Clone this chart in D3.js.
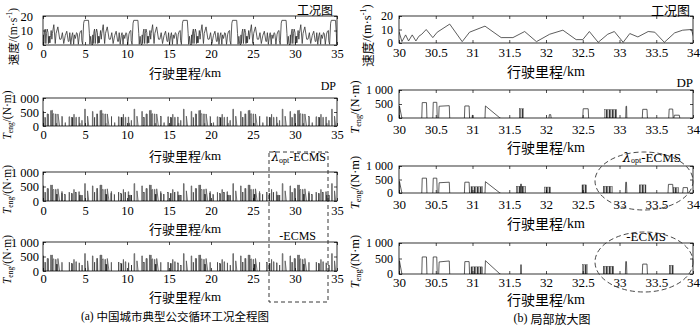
<!DOCTYPE html>
<html><head><meta charset="utf-8">
<script src="https://cdn.jsdelivr.net/npm/d3@7"></script>
<style>body{margin:0;background:#fff} text{fill:#000}</style>
</head><body>
<svg id="fig" width="700" height="326"></svg>
<script>
// one bus cycle (CCBC) is repeated along the full route
const cycleLen = 5.88;   // km
const nCycles = 6;

// speed in one cycle: [km inside cycle, m/s]
const speedCycle = [[0,0],[0.05,7],[0.10,1],[0.18,9],[0.26,11],[0.34,1],[0.42,8],[0.50,11],[0.60,8.5],
  [0.64,1],[0.69,6],[0.73,1.5],[0.78,6],[0.83,1.5],[0.87,5],[0.91,6.5],[0.97,10],[1.06,4],[1.12,8],
  [1.29,14],[1.46,1],[1.56,8],[1.77,12.5],[1.99,4],[2.15,4],[2.31,8.5],[2.47,1],[2.65,6.5],[2.83,9.5],
  [3.01,2.5],[3.10,2.5],[3.19,8.5],[3.31,0.5],[3.44,6.5],[3.53,8.5],[3.65,0.5],[3.74,7],[3.85,4.5],
  [3.99,8.5],[4.08,8],[4.21,0.5],[4.35,7.5],[4.46,9.5],[4.58,10],[4.615,3],[4.72,0.5],[4.84,15],
  [4.92,17],[5.42,17],[5.52,8],[5.58,0.5],[5.68,6],[5.76,1],[5.88,0]];

// engine torque events in one cycle: [start km, end km, torque at start, torque at end, dense]
const dpCycle = [[0.00,0.07,520,520,0],[0.22,0.30,300,300,1],[0.50,0.60,430,430,0],[0.60,0.645,430,0,0],
  [0.91,0.98,550,550,0],[1.06,1.12,560,560,0],[1.14,1.29,420,440,0],[1.49,1.56,430,430,0],
  [1.595,1.605,100,100,0],[1.77,1.98,430,0,0],[2.24,2.29,330,330,1],[2.64,2.67,120,120,0],
  [3.10,3.18,330,330,0],[3.40,3.56,300,300,1],[3.685,3.70,420,420,0],[3.91,3.98,310,310,0],
  [4.27,4.33,320,320,0],[4.34,4.42,100,100,0],[4.62,4.66,200,200,0],[4.96,5.04,600,600,0],
  [5.30,5.45,350,0,0]];
const lamCycle = [[0.00,0.07,520,520,0],[0.22,0.30,300,300,1],[0.50,0.60,430,430,0],[0.60,0.645,430,0,0],
  [0.91,0.98,550,550,0],[1.06,1.12,550,550,0],[1.14,1.29,380,400,0],[1.49,1.56,400,400,0],
  [1.58,1.74,230,230,1],[1.77,1.98,420,0,0],[2.20,2.32,250,250,1],[2.25,2.27,330,330,0],
  [2.58,2.66,220,220,1],[3.09,3.15,300,300,1],[3.38,3.50,250,250,1],[3.68,3.70,400,400,0],
  [3.87,3.96,300,300,1],[4.26,4.33,320,320,0],[4.33,4.40,200,200,1],[4.46,4.53,200,200,0],
  [4.62,4.66,200,200,1],[4.96,5.04,600,600,0],[5.30,5.45,350,0,0]];
const ecmsCycle = [[0.00,0.07,520,520,0],[0.22,0.30,300,300,1],[0.50,0.60,430,430,0],[0.60,0.645,430,0,0],
  [0.91,0.98,550,550,0],[1.06,1.12,550,550,0],[1.14,1.29,390,420,0],[1.49,1.56,400,400,0],
  [1.58,1.74,230,230,1],[1.77,1.98,430,0,0],[2.255,2.265,300,300,0],[3.10,3.16,300,300,1],
  [3.38,3.52,250,250,1],[3.68,3.70,400,400,0],[3.91,3.98,320,320,0],[4.28,4.33,280,280,1],
  [4.62,4.66,200,200,1],[4.96,5.04,600,600,0],[5.30,5.45,350,0,0]];

const kmTicksFull = [0,5,10,15,20,25,30,35];
const kmTicksZoom = [30,30.5,31,31.5,32,32.5,33,33.5,34];
const speedTicks = [0,10,20];
const torqueTicks = [0,500,1000];

const serif = "'Liberation Serif','DejaVu Serif',serif";
const cjk = "'Noto Sans CJK SC',sans-serif";

let speedAll = [];
for (let c = 0; c < nCycles; c++) speedCycle.forEach(d => speedAll.push([d[0] + c*cycleLen, d[1]]));
function cycleEvents(list) {
  let out = [];
  for (let c = 0; c < nCycles; c++) list.forEach(e => out.push({x0:e[0]+c*cycleLen, x1:e[1]+c*cycleLen, h0:e[2], h1:e[3], dense:e[4]}));
  return out;
}

let svg = d3.select("#fig");
let defs = svg.append("defs");
defs.append("pattern").attr("id","dense").attr("patternUnits","userSpaceOnUse")
  .attr("width",1.5).attr("height",4)
  .append("rect").attr("width",0.8).attr("height",4).attr("fill","#111");

const cols = {
  L: {x0:43, x1:337, xd:[0,35], xt:kmTicksFull, fs:12.5, yfs:12.5, tfs:13, lx:13, tlx:7},
  R: {x0:399, x1:693, xd:[30,34], xt:kmTicksZoom, fs:13, yfs:12, tfs:14, lx:367, tlx:355}
};
const panels = [
  {col:"L", kind:"speed", y0:16, y1:45, ypad:10, xlab:9, title:27},
  {col:"L", kind:"dp", y0:98, y1:126, ypad:4, xlab:9, title:29},
  {col:"L", kind:"lam", y0:172, y1:201, ypad:4, xlab:10, title:27},
  {col:"L", kind:"ecms", y0:242, y1:271, ypad:4, xlab:8, title:25},
  {col:"R", kind:"speed", y0:16, y1:43, ypad:6, xlab:10, title:28},
  {col:"R", kind:"dp", y0:90, y1:118, ypad:6, xlab:12, title:29},
  {col:"R", kind:"lam", y0:166, y1:193, ypad:6, xlab:12, title:30},
  {col:"R", kind:"ecms", y0:243, y1:274, ypad:6, xlab:9, title:25}
];
const torqueData = {dp: cycleEvents(dpCycle), lam: cycleEvents(lamCycle), ecms: cycleEvents(ecmsCycle)};

panels.forEach((p, i) => {
  const c = cols[p.col];
  const isSpeed = p.kind === "speed";
  let xScale = d3.scaleLinear().domain(c.xd).range([c.x0, c.x1]);
  let yScale = d3.scaleLinear().domain(isSpeed ? [0,20] : [0,1000]).range([p.y1, p.y0]);
  let g = svg.append("g");

  defs.append("clipPath").attr("id","clip"+i).append("rect")
    .attr("x",c.x0).attr("y",p.y0).attr("width",c.x1-c.x0).attr("height",p.y1-p.y0);
  let plot = g.append("g").attr("clip-path","url(#clip"+i+")");

  if (isSpeed) {
    plot.append("path").datum(speedAll)
      .attr("d", d3.line().x(d => xScale(d[0])).y(d => yScale(d[1])))
      .attr("fill","none").attr("stroke","#333").attr("stroke-width",0.8);
  } else {
    const ev = torqueData[p.kind].filter(e => e.x1 >= c.xd[0] && e.x0 <= c.xd[1]);
    ev.forEach(e => {
      if (e.dense) {
        plot.append("rect").attr("x",xScale(e.x0)).attr("y",yScale(e.h0))
          .attr("width",Math.max(0.6, xScale(e.x1)-xScale(e.x0))).attr("height",yScale(0)-yScale(e.h0))
          .attr("fill", p.col === "R" ? "url(#dense)" : "#222")
          .attr("stroke","#333").attr("stroke-width",0.4);
      } else {
        const w = Math.min(0.006, (e.x1-e.x0)/4);
        const pts = [[e.x0,0],[e.x0+w,e.h0],[e.x1-w,e.h1],[e.x1,0]];
        plot.append("path").datum(pts)
          .attr("d", d3.line().x(d => xScale(d[0])).y(d => yScale(d[1])))
          .attr("fill","none").attr("stroke", p.col === "R" ? "#333" : "#555")
          .attr("stroke-width",0.8);
      }
    });
  }

  // box and inward ticks
  const fmtY = d => d === 1000 ? "1 000" : String(d);
  let ax = g.append("g").attr("transform","translate(0,"+p.y1+")")
    .call(d3.axisBottom(xScale).tickValues(c.xt).tickSize(-3).tickPadding(p.xlab-5).tickFormat(d => String(d)));
  let ay = g.append("g").attr("transform","translate("+c.x0+",0)")
    .call(d3.axisLeft(yScale).tickValues(isSpeed ? speedTicks : torqueTicks).tickSize(-3).tickPadding(p.ypad).tickFormat(fmtY));
  g.append("g").attr("transform","translate(0,"+p.y0+")")
    .call(d3.axisTop(xScale).tickValues(c.xt).tickSize(-3).tickFormat(""));
  g.append("g").attr("transform","translate("+c.x1+",0)")
    .call(d3.axisRight(yScale).tickValues(isSpeed ? speedTicks : torqueTicks).tickSize(-3).tickFormat(""));
  g.selectAll(".domain").remove();
  g.selectAll(".tick line").attr("stroke","#000").attr("stroke-width",0.7);
  ax.attr("font-family", serif).attr("font-size", c.fs).selectAll("text").attr("fill","#000");
  ay.attr("font-family", serif).attr("font-size", c.yfs).selectAll("text").attr("fill","#000");
  g.append("rect").attr("x",c.x0).attr("y",p.y0).attr("width",c.x1-c.x0).attr("height",p.y1-p.y0)
    .attr("fill","none").attr("stroke","#000").attr("stroke-width",0.8);

  // x axis title
  let t = g.append("text").attr("x",(c.x0+c.x1)/2 - (p.col === "L" ? 5 : 0)).attr("y",p.y1+p.title)
    .attr("text-anchor","middle").attr("dominant-baseline","central").attr("font-size",c.tfs);
  t.append("tspan").attr("font-family",cjk).text("行驶里程");
  t.append("tspan").attr("font-family",serif).text("/km");

  // y axis title
  const cy = (p.y0+p.y1)/2 + 3;
  if (isSpeed) {
    let yl = g.append("text").attr("transform","translate("+c.lx+","+(cy+3)+") rotate(-90)")
      .attr("text-anchor","middle").attr("dominant-baseline","central").attr("font-size",c.tfs-1.5);
    yl.append("tspan").attr("font-family",cjk).text("速度");
    yl.append("tspan").attr("font-family",serif).text("/(m·s");
    yl.append("tspan").attr("font-family",serif).attr("font-size",(c.tfs-1.5)*0.65).attr("dy",-4).text("-1");
    yl.append("tspan").attr("font-family",serif).attr("dy",4).text(")");
  } else {
    let yl = g.append("text").attr("transform","translate("+c.tlx+","+cy+") rotate(-90)")
      .attr("text-anchor","middle").attr("dominant-baseline","central").attr("font-family",serif).attr("font-size",c.tfs-1.5);
    yl.append("tspan").attr("font-style","italic").text("T");
    yl.append("tspan").attr("font-size",(c.tfs-1.5)*0.65).attr("dy",3).text("eng");
    yl.append("tspan").attr("dy",-3).text("/(N·m)");
  }
});

// panel names
function label(x, y, size, parts) {
  let t = svg.append("text").attr("x",x).attr("y",y).attr("text-anchor","end")
    .attr("dominant-baseline","central").attr("font-size",size).attr("fill","#000");
  parts(t);
}
label(333, 9, 12, t => t.append("tspan").attr("font-family",cjk).text("工况图"));
label(690, 9, 13, t => t.append("tspan").attr("font-family",cjk).text("工况图"));
label(336, 86, 12, t => t.append("tspan").attr("font-family",serif).text("DP"));
label(693, 82, 13, t => t.append("tspan").attr("font-family",serif).text("DP"));
const lamText = t => {
  t.attr("font-family",serif);
  t.append("tspan").attr("font-family","'DejaVu Serif',serif").attr("font-style","italic").attr("fill","#000").text("λ");
  t.append("tspan").attr("font-size",8).attr("fill","#000").attr("dy",3).text("opt");
  t.append("tspan").attr("dy",-3).attr("fill","#000").text("-ECMS");
};
label(326, 157, 12, lamText);
label(681, 157, 13, lamText);
label(316, 236, 12, t => t.append("tspan").attr("font-family",serif).text("-ECMS"));
label(666, 236, 13, t => t.append("tspan").attr("font-family",serif).text("-ECMS"));

// dashed marks
svg.append("rect").attr("x",269).attr("y",152).attr("width",59).attr("height",150)
  .attr("fill","none").attr("stroke","#222").attr("stroke-width",0.9).attr("stroke-dasharray","4,3");
svg.append("ellipse").attr("cx",644).attr("cy",181).attr("rx",49).attr("ry",29)
  .attr("fill","none").attr("stroke","#333").attr("stroke-width",0.9).attr("stroke-dasharray","5,3");
svg.append("ellipse").attr("cx",644).attr("cy",262).attr("rx",49).attr("ry",30)
  .attr("fill","none").attr("stroke","#333").attr("stroke-width",0.9).attr("stroke-dasharray","5,3");

// captions
let ca = svg.append("text").attr("x",175).attr("y",316).attr("text-anchor","middle")
  .attr("dominant-baseline","central").attr("font-size",11.5);
ca.append("tspan").attr("font-family",serif).text("(a) ");
ca.append("tspan").attr("font-family",cjk).text("中国城市典型公交循环工况全程图");
let cb = svg.append("text").attr("x",552).attr("y",318).attr("text-anchor","middle")
  .attr("dominant-baseline","central").attr("font-size",12);
cb.append("tspan").attr("font-family",serif).text("(b) ");
cb.append("tspan").attr("font-family",cjk).text("局部放大图");
</script>
</body></html>
